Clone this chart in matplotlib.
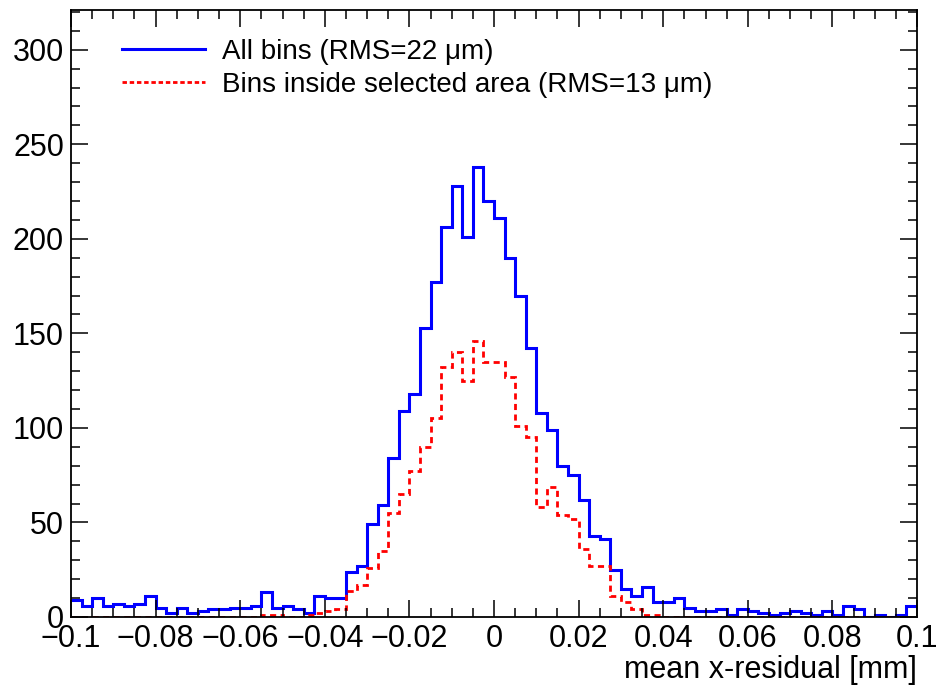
import numpy as np
import matplotlib
matplotlib.use("Agg")
import matplotlib.pyplot as plt
from matplotlib.ticker import MultipleLocator
from matplotlib.lines import Line2D

plt.rcParams["font.family"] = ["Liberation Sans", "DejaVu Sans"]

# histogram range: 80 bins from -0.1 to 0.1 mm
XMIN, XMAX, NBINS = -0.1, 0.1, 80
YMAX = 321

# all bins (blue)
all_bins = [
    9, 6, 10, 6, 7, 6, 7, 11, 5, 2,
    5, 2, 3, 4, 4, 5, 5, 6, 13, 5,
    6, 4, 2, 11, 10, 10, 24, 27, 49, 59,
    84, 109, 118, 153, 177, 206, 228, 201, 238, 220,
    211, 190, 170, 142, 108, 99, 80, 75, 62, 43,
    41, 25, 15, 11, 16, 8, 8, 10, 5, 3,
    3, 4, 1, 4, 3, 2, 1, 2, 3, 2,
    1, 3, 1, 6, 4, 0, 1, 0, 1, 6,
]

# bins inside selected area (red)
sel_bins = [
    0, 0, 0, 0, 0, 0, 0, 0, 0, 0,
    0, 0, 0, 0, 0, 0, 0, 0, 1, 1,
    0, 0, 1, 2, 3, 4, 14, 17, 26, 35,
    55, 65, 77, 90, 105, 132, 140, 125, 146, 135,
    135, 127, 101, 95, 58, 69, 54, 52, 36, 27,
    27, 11, 8, 4, 1, 1, 0, 0, 0, 0,
    0, 0, 0, 0, 0, 0, 0, 0, 0, 0,
    0, 0, 0, 0, 0, 0, 0, 0, 0, 0,
]

label_all = "All bins (RMS=22 \u03bcm)"
label_sel = "Bins inside selected area (RMS=13 \u03bcm)"
xlabel = "mean x-residual [mm]"

edges = np.linspace(XMIN, XMAX, NBINS + 1)

fig = plt.figure(figsize=(9.41, 6.86), dpi=100)
ax = fig.add_axes([71 / 941, 1 - 617 / 686, 846 / 941, 607 / 686])

ax.stairs(all_bins, edges, baseline=None, color="#0000ff", linewidth=2.2)
ax.stairs(sel_bins, edges, baseline=None, color="#ff0000", linewidth=2.0,
          linestyle=(0, (2.2, 1.6)))

ax.set_xlim(XMIN, XMAX)
ax.set_ylim(0, YMAX)

ax.xaxis.set_major_locator(MultipleLocator(0.02))
ax.xaxis.set_minor_locator(MultipleLocator(0.005))
ax.yaxis.set_major_locator(MultipleLocator(50))
ax.yaxis.set_minor_locator(MultipleLocator(10))
ax.xaxis.set_major_formatter(plt.FuncFormatter(
    lambda v, p: "0" if abs(v) < 1e-9 else f"{v:g}".replace("-", "\u2212")))

ax.tick_params(which="both", direction="in", top=True, right=True,
               width=1.1, labelsize=22)
ax.tick_params(which="major", length=12.5)
ax.tick_params(which="minor", length=6.3)
ax.tick_params(axis="x", pad=5)
ax.tick_params(axis="y", pad=5)
for sp in ax.spines.values():
    sp.set_linewidth(1.3)

ax.set_xlabel(xlabel, fontsize=22, loc="right")
ax.xaxis.set_label_coords(1.0, -0.063)

handles = [
    Line2D([], [], color="#0000ff", linewidth=2.2),
    Line2D([], [], color="#ff0000", linewidth=2.0, linestyle=(0, (1.6, 1.0))),
]
ax.legend(handles, [label_all, label_sel], loc="upper left",
          bbox_to_anchor=(0.0603, 0.952), frameon=False, fontsize=20,
          handlelength=3.0, handletextpad=0.6, labelspacing=0.23,
          borderaxespad=0, borderpad=0)

fig.savefig("out.png", dpi=100)
